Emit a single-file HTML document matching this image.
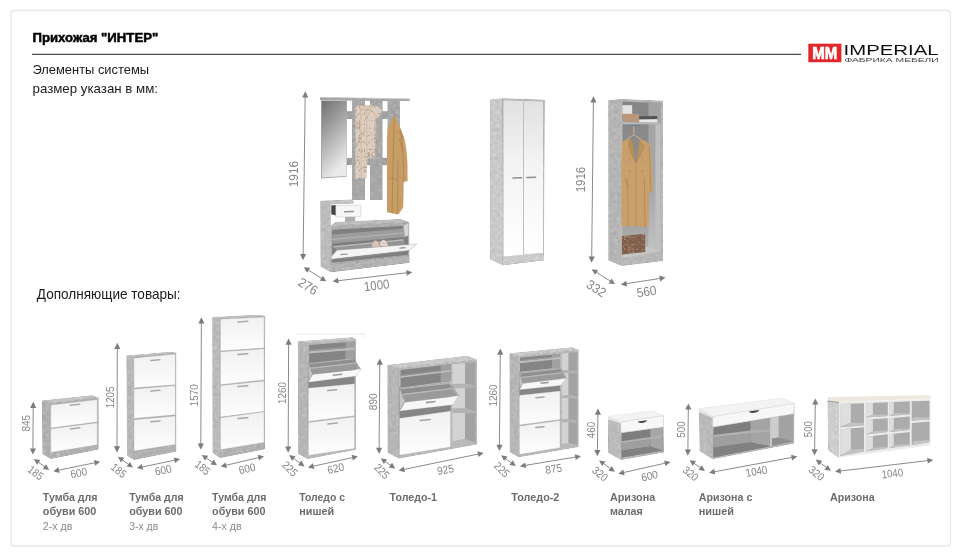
<!DOCTYPE html>
<html lang="ru"><head><meta charset="utf-8"><title>Прихожая ИНТЕР</title>
<style>
html,body{margin:0;padding:0;background:#fff;}
body{width:961px;height:557px;overflow:hidden;}
svg{display:block;font-family:"Liberation Sans",sans-serif;}
</style></head><body>
<svg width="961" height="557" viewBox="0 0 961 557">
<defs>
<linearGradient id="door" x1="0" y1="0" x2="0" y2="1"><stop offset="0" stop-color="#f1f1f1"/><stop offset="1" stop-color="#fdfdfd"/></linearGradient>
<linearGradient id="wdoor" x1="0" y1="0" x2="0" y2="1"><stop offset="0" stop-color="#e1e1e1"/><stop offset="0.4" stop-color="#f3f3f3"/><stop offset="1" stop-color="#ffffff"/></linearGradient>
<linearGradient id="mirror" x1="0" y1="0" x2="0.35" y2="1"><stop offset="0" stop-color="#707070"/><stop offset="0.5" stop-color="#acacac"/><stop offset="1" stop-color="#e9e9e9"/></linearGradient>
<linearGradient id="owback" x1="0" y1="0" x2="0" y2="1"><stop offset="0" stop-color="#858585"/><stop offset="0.6" stop-color="#939393"/><stop offset="1" stop-color="#b6b6b6"/></linearGradient>
<linearGradient id="owright" x1="0" y1="0" x2="0" y2="1"><stop offset="0" stop-color="#a2a2a2"/><stop offset="0.6" stop-color="#a8a8a8"/><stop offset="1" stop-color="#c2c2c2"/></linearGradient>
<filter id="scarf" x="-5%" y="-5%" width="110%" height="110%" color-interpolation-filters="sRGB">
 <feTurbulence type="turbulence" baseFrequency="0.2 0.14" numOctaves="2" seed="5" result="n"/>
 <feColorMatrix in="n" type="matrix" values="0 0 0 0 0.70  0 0 0 0 0.59  0 0 0 0 0.51  -5.5 0 0 0 0.95" result="c"/>
 <feComposite in="c" in2="SourceGraphic" operator="atop"/>
</filter>
<filter id="bag" x="-5%" y="-5%" width="110%" height="110%" color-interpolation-filters="sRGB">
 <feTurbulence type="turbulence" baseFrequency="0.16 0.2" numOctaves="2" seed="9" result="n"/>
 <feColorMatrix in="n" type="matrix" values="0 0 0 0 0.74  0 0 0 0 0.62  0 0 0 0 0.54  -5 0 0 0 0.72" result="c"/>
 <feComposite in="c" in2="SourceGraphic" operator="atop"/>
</filter>
<filter id="conc" x="-5%" y="-5%" width="110%" height="110%" color-interpolation-filters="sRGB">
 <feTurbulence type="fractalNoise" baseFrequency="0.28" numOctaves="3" seed="11" result="n"/>
 <feColorMatrix in="n" type="matrix" values="0.5 0.5 0 0 0  0.5 0.5 0 0 0  0.5 0.5 0 0 0  0 0 0 0 1" result="g"/>
 <feComposite in="SourceGraphic" in2="g" operator="arithmetic" k1="0" k2="1" k3="0.17" k4="-0.04" result="m"/>
 <feComposite in="m" in2="SourceGraphic" operator="in"/>
</filter>
<filter id="tsoft" x="-2%" y="-2%" width="104%" height="104%"><feGaussianBlur stdDeviation="0.28"/></filter>
<filter id="soft"><feGaussianBlur stdDeviation="0.35"/></filter>
</defs>
<rect x="11" y="10.5" width="939.5" height="535.5" rx="3" fill="#fff" stroke="#e8e8e8" stroke-width="1.3"/>
<g filter="url(#tsoft)">
<text x="32.5" y="41.7" font-size="12" font-weight="bold" fill="#000" textLength="125.7" lengthAdjust="spacingAndGlyphs" stroke="#000" stroke-width="0.45">Прихожая "ИНТЕР"</text>
<line x1="32.0" y1="54.4" x2="801.0" y2="54.4" stroke="#4a4a4a" stroke-width="1.1" />
<text x="32.5" y="74.3" font-size="13.6" font-weight="normal" fill="#1a1a1a" textLength="116.5" lengthAdjust="spacingAndGlyphs" >Элементы системы</text>
<text x="32.5" y="93.3" font-size="13.6" font-weight="normal" fill="#1a1a1a" textLength="125.5" lengthAdjust="spacingAndGlyphs" >размер указан в мм:</text>
<text x="36.8" y="299" font-size="14.6" font-weight="normal" fill="#1a1a1a" textLength="143.8" lengthAdjust="spacingAndGlyphs" >Дополняющие товары:</text>
<rect x="808.3" y="43.7" width="33.1" height="18.5" fill="#e2272b"/>
<text x="812.3" y="58.7" font-size="16" font-weight="bold" fill="#fff" textLength="25" lengthAdjust="spacingAndGlyphs" stroke="#fff" stroke-width="0.7">MM</text>
<text x="843.6" y="54.6" font-size="15" font-weight="normal" fill="#111" textLength="95" lengthAdjust="spacingAndGlyphs" >IMPERIAL</text>
<text x="844.4" y="62.4" font-size="5.9" font-weight="normal" fill="#444" textLength="94.4" lengthAdjust="spacingAndGlyphs" >ФАБРИКА МЕБЕЛИ</text>
<text x="42.8" y="501" font-size="10.1" font-weight="bold" fill="#6c6c6c" textLength="54.8" lengthAdjust="spacingAndGlyphs" >Тумба для</text>
<text x="42.8" y="515.3" font-size="10.1" font-weight="bold" fill="#6c6c6c" textLength="53.6" lengthAdjust="spacingAndGlyphs" >обуви 600</text>
<text x="42.8" y="529.7" font-size="10.1" font-weight="normal" fill="#8c8c8c" textLength="29.5" lengthAdjust="spacingAndGlyphs" >2-х дв</text>
<text x="129.2" y="501" font-size="10.1" font-weight="bold" fill="#6c6c6c" textLength="54.4" lengthAdjust="spacingAndGlyphs" >Тумба для</text>
<text x="129.2" y="515.3" font-size="10.1" font-weight="bold" fill="#6c6c6c" textLength="53.3" lengthAdjust="spacingAndGlyphs" >обуви 600</text>
<text x="129.2" y="529.7" font-size="10.1" font-weight="normal" fill="#8c8c8c" textLength="29" lengthAdjust="spacingAndGlyphs" >3-х дв</text>
<text x="212.1" y="501" font-size="10.1" font-weight="bold" fill="#6c6c6c" textLength="54.4" lengthAdjust="spacingAndGlyphs" >Тумба для</text>
<text x="212.1" y="515.3" font-size="10.1" font-weight="bold" fill="#6c6c6c" textLength="53.3" lengthAdjust="spacingAndGlyphs" >обуви 600</text>
<text x="212.1" y="529.7" font-size="10.1" font-weight="normal" fill="#8c8c8c" textLength="29.5" lengthAdjust="spacingAndGlyphs" >4-х дв</text>
<text x="299.2" y="501" font-size="10.1" font-weight="bold" fill="#6c6c6c" textLength="45.8" lengthAdjust="spacingAndGlyphs" >Толедо с</text>
<text x="299.2" y="515.3" font-size="10.1" font-weight="bold" fill="#6c6c6c" textLength="34.9" lengthAdjust="spacingAndGlyphs" >нишей</text>
<text x="389.6" y="501" font-size="10.1" font-weight="bold" fill="#6c6c6c" textLength="47.3" lengthAdjust="spacingAndGlyphs" >Толедо-1</text>
<text x="511.3" y="501" font-size="10.1" font-weight="bold" fill="#6c6c6c" textLength="48.1" lengthAdjust="spacingAndGlyphs" >Толедо-2</text>
<text x="609.9" y="501" font-size="10.1" font-weight="bold" fill="#6c6c6c" textLength="45.3" lengthAdjust="spacingAndGlyphs" >Аризона</text>
<text x="609.9" y="515.3" font-size="10.1" font-weight="bold" fill="#6c6c6c" textLength="32.8" lengthAdjust="spacingAndGlyphs" >малая</text>
<text x="698.7" y="501" font-size="10.1" font-weight="bold" fill="#6c6c6c" textLength="53.7" lengthAdjust="spacingAndGlyphs" >Аризона с</text>
<text x="698.7" y="515.3" font-size="10.1" font-weight="bold" fill="#6c6c6c" textLength="35.4" lengthAdjust="spacingAndGlyphs" >нишей</text>
<text x="829.9" y="501" font-size="10.1" font-weight="bold" fill="#6c6c6c" textLength="44.9" lengthAdjust="spacingAndGlyphs" >Аризона</text>
</g>
<g filter="url(#soft)">
<g filter="url(#conc)">
<polygon points="42.0,400.6 50.2,403.1 50.8,459.1 42.4,453.9" fill="#a4a4a4" />
<polygon points="50.2,403.1 98.6,397.4 98.6,449.5 50.8,459.1" fill="#a6a6a6" />
<polygon points="42.0,400.6 91.7,395.3 98.6,397.4 50.2,403.1" fill="#b9b9b9" />
</g>
<polygon points="50.8,405.0 97.3,399.6 97.3,421.9 50.8,428.0" fill="url(#door)" stroke="#959595" stroke-width="0.3"/>
<polygon points="50.8,428.8 97.3,422.8 97.3,444.8 50.8,452.4" fill="url(#door)" stroke="#959595" stroke-width="0.3"/>
<line x1="70.3" y1="405.3" x2="79.7" y2="404.2" stroke="#a9a9a9" stroke-width="1.5" stroke-linecap="round"/>
<line x1="70.3" y1="428.9" x2="79.7" y2="427.7" stroke="#a9a9a9" stroke-width="1.5" stroke-linecap="round"/>
<g filter="url(#conc)">
<polygon points="126.4,355.4 133.5,356.4 133.9,460.0 127.0,455.7" fill="#adadad" />
<polygon points="133.5,356.4 176.3,352.6 176.3,451.5 133.9,460.0" fill="#a6a6a6" />
<polygon points="126.4,355.4 170.7,351.7 176.3,352.6 133.5,356.4" fill="#b9b9b9" />
</g>
<polygon points="133.9,357.9 175.4,354.1 175.4,384.7 133.9,388.0" fill="url(#door)" stroke="#959595" stroke-width="0.3"/>
<polygon points="133.9,389.0 175.4,385.6 175.4,414.8 133.9,418.6" fill="url(#door)" stroke="#959595" stroke-width="0.3"/>
<polygon points="133.9,419.7 175.4,415.9 175.4,444.4 133.9,451.0" fill="url(#door)" stroke="#959595" stroke-width="0.3"/>
<line x1="150.9" y1="360.6" x2="159.9" y2="359.8" stroke="#a9a9a9" stroke-width="1.5" stroke-linecap="round"/>
<line x1="150.9" y1="391.1" x2="159.9" y2="390.3" stroke="#a9a9a9" stroke-width="1.5" stroke-linecap="round"/>
<line x1="150.9" y1="421.8" x2="159.9" y2="421.0" stroke="#a9a9a9" stroke-width="1.5" stroke-linecap="round"/>
<g filter="url(#conc)">
<polygon points="212.3,317.0 220.0,318.2 220.1,458.1 212.5,453.0" fill="#afafaf" />
<polygon points="220.0,318.2 265.2,315.7 264.9,449.3 220.1,458.1" fill="#a6a6a6" />
<polygon points="212.3,317.0 258.0,314.8 265.2,315.7 220.0,318.2" fill="#b9b9b9" />
</g>
<polygon points="220.4,319.1 264.2,317.0 264.2,348.1 220.4,350.9" fill="url(#door)" stroke="#959595" stroke-width="0.3"/>
<polygon points="220.4,351.7 264.2,348.8 264.2,379.9 220.4,384.7" fill="url(#door)" stroke="#959595" stroke-width="0.3"/>
<polygon points="220.4,385.6 264.2,380.9 264.2,411.4 220.4,417.1" fill="url(#door)" stroke="#959595" stroke-width="0.3"/>
<polygon points="220.4,417.8 264.2,411.8 264.2,442.5 220.4,449.7" fill="url(#door)" stroke="#959595" stroke-width="0.3"/>
<line x1="237.8" y1="321.9" x2="247.8" y2="321.3" stroke="#a9a9a9" stroke-width="1.5" stroke-linecap="round"/>
<line x1="237.8" y1="354.4" x2="247.8" y2="353.8" stroke="#a9a9a9" stroke-width="1.5" stroke-linecap="round"/>
<line x1="237.8" y1="386.6" x2="247.8" y2="385.8" stroke="#a9a9a9" stroke-width="1.5" stroke-linecap="round"/>
<line x1="237.8" y1="418.6" x2="247.8" y2="417.8" stroke="#a9a9a9" stroke-width="1.5" stroke-linecap="round"/>
<g filter="url(#conc)">
<polygon points="346.7,111.2 400.0,111.2 400.0,119.0 346.7,119.0" fill="#949494" />
<polygon points="346.7,157.8 400.0,157.8 400.0,165.3 346.7,165.3" fill="#949494" />
<polygon points="352.0,100.3 364.9,100.5 364.9,200.0 352.0,200.0" fill="#9c9c9c" />
<polygon points="370.0,100.3 382.6,100.5 382.6,200.0 370.0,200.0" fill="#9c9c9c" />
<polygon points="387.5,100.3 399.8,100.5 399.8,200.0 387.5,200.0" fill="#9c9c9c" />
<polygon points="320.0,97.3 409.7,98.9 409.7,100.9 320.0,100.6" fill="#9d9d9d" />
</g>
<polygon points="320.6,96.9 409.3,98.6 409.7,99.3 320.0,97.8" fill="#c4c4c4" />
<polygon points="321.0,100.6 346.9,100.8 346.5,176.8 321.0,178.4" fill="#a5a5a5" />
<polygon points="321.9,101.0 346.6,101.1 346.2,176.1 321.9,177.5" fill="url(#mirror)" />
<g filter="url(#scarf)">
<path d="M355.8,107 C356.5,105.5 359,105 362,105.8 C365,104.8 369,104.6 372,105.6 C375,105 379.5,106.5 381.6,109.5 C381.8,113 379.5,116.5 377.3,118.3 L375.6,116.6 L375.4,135 L375.2,157.8 L367.6,158.4 L366.4,178.8 L361,178 L355.3,178.8 L355.6,140 L355.2,118 Z" fill="#dccdbf"/>
</g>
<path d="M366.6,108 C367.2,125 366.4,140 367.2,158 M361,108 C360.4,130 361.6,155 361,177" fill="none" stroke="#b7a08f" stroke-width="0.6" opacity="0.7"/>
<path d="M394.2,115.4 C396.5,119 399,124 400.6,129 C403,134 404.6,139 405.3,143 C406.6,150 407.3,158 407.5,165 L407.6,181 L403.7,182 L403.2,207.5 L399,213.4 L397.8,214.4 L392,213.2 L387,212.2 L386.9,170 L387,140 C387.1,135 387.4,131 387.8,128 C389.5,123.5 392,118.5 394.2,115.4 Z" fill="#c89d66"/>
<path d="M394.2,116.5 L393.4,150 L392,212.5 M400.6,129 C402.5,142 403.6,162 403.7,182 M397,131 L403,136.5 L399.5,139.5 L402.8,152 M398,160 L397.6,213 M389.6,178 L397.6,179.4" fill="none" stroke="#a67c48" stroke-width="0.75" opacity="0.85"/>
<path d="M391.8,112.2 C392.6,110.6 394.8,111 394.2,115.2" fill="none" stroke="#888" stroke-width="0.8"/>
<g filter="url(#conc)">
<polygon points="320.3,200.7 330.7,204.4 330.7,272.2 320.5,266.4" fill="#b0b0b0" />
<polygon points="320.3,200.7 352.1,199.4 354.6,203.4 330.7,204.4" fill="#b7b7b7" />
<polygon points="345.2,216.8 355.2,216.4 355.2,224.3 345.2,224.7" fill="#a3a3a3" />
<polygon points="330.7,225.8 335.5,221.9 400.5,219.1 409.2,222.0" fill="#b3b3b3" />
<polygon points="330.7,225.8 409.2,222.0 409.4,262.8 330.7,272.2" fill="#a4a4a4" />
</g>
<polygon points="332.1,229.7 408.0,225.5 408.2,254.8 332.1,262.8" fill="#7f7f7f" />
<polygon points="332.2,234.5 402.0,228.8 405.8,226.2 407.8,226.2 404.2,237.0 332.2,243.5" fill="#9c9c9c" />
<polygon points="332.2,238.8 403.0,232.4 403.2,233.6 332.2,240.0" fill="#b4b4b4" />
<polygon points="403.4,225.2 408.6,223.2 408.6,235.6 404.6,237.0" fill="#d6d6d6" stroke="#9a9a9a" stroke-width="0.3"/>
<polygon points="333.0,246.2 403.6,239.2 406.0,247.8 337.0,251.2" fill="#959595" />
<polygon points="333.0,246.2 403.6,239.2 403.8,240.4 333.2,247.4" fill="#bbbbbb" />
<path d="M371.5,246.5 C372.5,241.5 375,240 376.5,240.8 C378.5,242 379.5,245.5 380,248 Z" fill="#d8c3b8"/>
<path d="M379.5,245.8 C380.5,240.8 383,239.3 384.5,240 C386.5,241.2 387.8,244.5 388.2,247 Z" fill="#e3d2c8"/>
<polygon points="331.3,256.6 337.0,250.2 416.9,243.9 409.3,250.4 331.4,259.2" fill="#f4f4f4" stroke="#9a9a9a" stroke-width="0.4"/>
<polygon points="331.4,259.2 409.3,250.4 409.3,251.6 331.4,260.6" fill="#8a8a8a" />
<line x1="340.5" y1="254.6" x2="347.5" y2="254.0" stroke="#8f8f8f" stroke-width="1.2" />
<line x1="399.5" y1="248.2" x2="405.5" y2="247.7" stroke="#8f8f8f" stroke-width="1.2" />
<g filter="url(#conc)">
<polygon points="330.7,264.4 409.4,255.0 409.4,262.8 330.7,272.2" fill="#a8a8a8" />
</g>
<polygon points="331.3,205.2 335.9,205.2 335.9,215.4 331.3,214.2" fill="#454545" />
<polygon points="335.8,205.7 360.9,205.2 360.9,216.6 335.8,217.1" fill="#f6f6f6" stroke="#b5b5b5" stroke-width="0.4"/>
<line x1="344.0" y1="211.8" x2="354.0" y2="211.5" stroke="#959595" stroke-width="1.6" />
<g filter="url(#conc)">
<polygon points="490.2,99.4 502.1,98.2 502.7,265.3 490.2,259.6" fill="#bebebe" />
<polygon points="502.1,98.2 544.8,99.8 543.9,260.3 502.7,265.3" fill="#adadad" />
<polygon points="502.7,256.4 543.9,252.6 543.9,260.3 502.7,265.3" fill="#c0c0c0" />
</g>
<polygon points="503.5,100.2 523.1,100.9 523.1,254.7 503.6,256.6" fill="url(#wdoor)" />
<polygon points="523.8,100.9 543.0,101.6 543.1,252.8 523.8,254.6" fill="url(#wdoor)" />
<line x1="523.5" y1="100.9" x2="523.5" y2="254.7" stroke="#b9b9b9" stroke-width="0.6" />
<line x1="512.9" y1="178.0" x2="521.6" y2="177.7" stroke="#909090" stroke-width="1.5" stroke-linecap="round"/>
<line x1="526.9" y1="177.5" x2="535.6" y2="177.2" stroke="#909090" stroke-width="1.5" stroke-linecap="round"/>
<g filter="url(#conc)">
<polygon points="608.3,100.3 621.3,99.1 621.5,265.9 608.3,260.2" fill="#aaaaaa" />
<polygon points="621.3,99.1 663.0,100.7 663.0,260.9 621.5,265.9" fill="#acacac" />
</g>
<polygon points="622.4,101.6 660.4,102.9 660.4,251.2 622.5,255.6" fill="url(#owback)" />
<polygon points="648.4,102.6 660.4,102.9 660.4,251.2 648.4,246.2" fill="url(#owright)" />
<polygon points="655.4,124.6 660.6,124.6 660.6,251.2 655.4,249.2" fill="#bfbfbf" />
<polygon points="622.5,255.4 648.4,246.2 660.4,251.2 622.5,258.3" fill="#c6c6c6" />
<polygon points="622.4,122.1 660.4,122.6 660.4,124.5 622.4,124.2" fill="#b9b9b9" />
<polygon points="622.4,119.8 648.4,119.8 660.4,122.6 622.4,122.1" fill="#a8a8a8" />
<polygon points="622.4,105.2 632.2,105.2 632.2,113.9 622.4,113.9" fill="#e2e2e2" />
<polygon points="622.4,113.9 638.8,113.7 638.8,122.0 622.4,122.1" fill="#b9977c" />
<polygon points="639.3,116.3 657.0,116.1 657.4,119.3 639.3,119.6" fill="#555" />
<polygon points="639.3,119.4 657.4,119.2 657.4,122.2 639.3,122.2" fill="#e8e8e8" />
<line x1="629.0" y1="125.6" x2="639.8" y2="125.6" stroke="#6f7f8f" stroke-width="1.2" />
<path d="M633.9,126 L633.9,133.6 M627.5,138.8 L633.9,134.6 L640.5,139.2" fill="none" stroke="#d9b58a" stroke-width="0.9"/>
<path d="M628.5,138.2 C626,139.6 623.8,140.8 622.4,141.8 C621.4,150 621.2,160 621.2,172 L621.3,225.4 C624,226.8 627,224.8 630,226 C633,227.2 636,225 639.5,226.4 C642.5,227.4 646,225.8 648.6,227.2 L648.9,191.5 L652.9,191.2 L651.6,163 C651.2,153 650.4,147 649.4,143.6 C647,142 643,140.2 639.6,138.6 L636,164.4 Z" fill="#c9a06c"/>
<path d="M628.5,138.2 L632.4,141.2 L636,164.4 L631.8,157 L628.2,146.5 Z" fill="#b98e59"/>
<path d="M639.6,138.6 L641.2,142 L645.2,146 L640.5,157 L636,164.4 Z" fill="#bb915c"/>
<path d="M632.4,141.2 L636,164.4 L639.6,140 C637,141.4 634.6,141.6 632.4,141.2 Z" fill="#8f8a86"/>
<path d="M636,164.4 L636.2,226 M627.6,178 L628,226 M644.4,178 L645,227 M649.2,146 C650,162 650.4,178 650.6,191 M624.6,177.8 C625.6,182 627,185 628.6,186.6" fill="none" stroke="#a67c48" stroke-width="0.7" opacity="0.8"/>
<circle cx="629.6" cy="160" r="0.55" fill="#7a5a34"/><circle cx="629.6" cy="171" r="0.55" fill="#7a5a34"/><circle cx="642.4" cy="160" r="0.55" fill="#7a5a34"/><circle cx="642.4" cy="171" r="0.55" fill="#7a5a34"/>
<g filter="url(#bag)">
<polygon points="621.8,236.0 645.1,233.8 645.3,252.0 621.8,254.6" fill="#80604c" />
</g>
<g filter="url(#conc)">
<polygon points="297.9,341.3 308.1,342.6 307.7,458.9 298.3,453.9" fill="#ababab" />
<polygon points="308.1,342.6 355.8,339.1 355.8,449.8 307.7,458.9" fill="#aeaeae" />
<polygon points="297.9,341.3 352.3,337.3 355.8,339.1 308.1,342.6" fill="#bdbdbd" />
</g>
<polygon points="309.1,345.1 354.6,341.6 354.6,360.2 309.1,364.6" fill="#858585" />
<polygon points="345.5,342.3 354.6,341.6 354.6,360.2 345.5,361.1" fill="#a0a0a0" />
<polygon points="309.1,351.2 354.6,347.5 354.6,349.7 309.1,353.6" fill="#bcbcbc" />
<polygon points="309.1,349.8 345.5,346.9 345.5,348.2 309.1,351.2" fill="#999999" />
<polygon points="308.3,374.0 354.6,369.0 354.6,384.0 308.3,388.4" fill="#858585" />
<polygon points="308.9,363.3 353.5,358.3 356.0,362.6 310.4,367.7" fill="#8e8e8e" />
<polygon points="310.4,367.7 356.0,362.6 356.6,363.6 310.8,368.9" fill="#b9b9b9" />
<polygon points="310.8,368.9 356.6,363.6 359.8,369.0 312.7,374.4" fill="#9a9a9a" />
<polygon points="308.9,363.3 353.5,358.3 354.1,359.3 309.2,364.3" fill="#b4b4b4" />
<polygon points="308.3,362.7 312.7,374.4 308.3,381.5" fill="#c4c4c4" stroke="#7d7d7d" stroke-width="0.35"/>
<line x1="353.6" y1="358.4" x2="360.6" y2="369.2" stroke="#8a8a8a" stroke-width="0.7" />
<polygon points="312.7,374.4 361.1,369.2 356.7,376.1 308.3,382.3" fill="#f7f7f7" stroke="#a9a9a9" stroke-width="0.3"/>
<line x1="332.8" y1="375.2" x2="342.2" y2="374.2" stroke="#9a9a9a" stroke-width="1.6" />
<polygon points="308.3,388.1 354.6,383.7 354.6,415.8 308.3,421.4" fill="url(#door)" stroke="#959595" stroke-width="0.3"/>
<polygon points="308.3,422.4 354.6,416.8 354.6,448.6 308.3,455.4" fill="url(#door)" stroke="#959595" stroke-width="0.3"/>
<line x1="327.8" y1="390.6" x2="336.6" y2="389.8" stroke="#a6a6a6" stroke-width="1.5" stroke-linecap="round"/>
<line x1="327.8" y1="424.0" x2="337.2" y2="423.0" stroke="#a6a6a6" stroke-width="1.5" stroke-linecap="round"/>
<path d="M295.8,334 L364.8,334 L364.8,338" fill="none" stroke="#e4e4e4" stroke-width="0.8"/>
<g filter="url(#conc)">
<polygon points="387.4,365.1 398.9,368.2 398.9,458.4 387.6,452.8" fill="#ababab" />
<polygon points="398.9,368.2 476.8,359.5 476.8,444.6 398.9,458.4" fill="#aeaeae" />
<polygon points="387.4,365.1 466.8,355.7 476.8,359.5 398.9,368.2" fill="#bdbdbd" />
</g>
<polygon points="452.4,364.6 465.0,363.2 465.0,440.0 452.4,445.5" fill="#d3d3d3" />
<polygon points="465.0,363.2 475.6,362.0 475.6,443.0 465.0,440.0" fill="#a3a3a3" />
<polygon points="452.4,384.0 465.0,383.6 475.6,385.8 475.6,387.6 452.4,388.4" fill="#b3b3b3" />
<polygon points="452.4,408.5 465.0,408.0 475.6,411.0 475.6,413.0 452.4,413.0" fill="#b3b3b3" />
<polygon points="452.4,441.0 465.0,438.7 475.6,442.5 475.6,444.0 452.4,448.0" fill="#b9b9b9" />
<polygon points="400.6,370.0 450.7,364.3 450.7,381.1 400.6,387.4" fill="#858585" />
<polygon points="440.7,365.5 450.7,364.3 450.7,381.1 440.7,382.3" fill="#a0a0a0" />
<polygon points="400.6,375.9 450.7,370.1 450.7,371.8 400.6,377.7" fill="#bcbcbc" />
<polygon points="400.6,374.9 440.7,370.2 440.7,371.2 400.6,375.9" fill="#999999" />
<polygon points="399.5,403.0 450.6,396.5 450.6,411.3 399.5,418.4" fill="#858585" />
<polygon points="400.2,388.3 448.5,382.7 452.1,387.9 402.2,393.9" fill="#8e8e8e" />
<polygon points="402.2,393.9 452.1,387.9 453.0,389.1 402.7,395.2" fill="#b9b9b9" />
<polygon points="402.7,395.2 453.0,389.1 457.5,395.6 405.2,402.2" fill="#9a9a9a" />
<polygon points="400.2,388.3 448.5,382.7 449.3,383.9 400.6,389.6" fill="#b4b4b4" />
<polygon points="399.5,387.6 405.2,402.2 399.5,410.3" fill="#c4c4c4" stroke="#7d7d7d" stroke-width="0.35"/>
<line x1="450.5" y1="383.6" x2="459.0" y2="396.2" stroke="#8a8a8a" stroke-width="0.7" />
<polygon points="405.2,402.2 458.6,395.9 452.9,404.8 399.5,411.1" fill="#f7f7f7" stroke="#a9a9a9" stroke-width="0.3"/>
<line x1="426.0" y1="402.6" x2="435.5" y2="401.5" stroke="#9a9a9a" stroke-width="1.6" />
<polygon points="399.5,418.2 450.6,411.1 450.6,447.1 399.5,455.3" fill="url(#door)" stroke="#959595" stroke-width="0.3"/>
<line x1="420.3" y1="420.6" x2="430.3" y2="419.4" stroke="#a6a6a6" stroke-width="1.5" stroke-linecap="round"/>
<g filter="url(#conc)">
<polygon points="509.5,353.2 518.7,355.7 518.7,457.2 509.7,452.1" fill="#ababab" />
<polygon points="518.7,355.7 578.6,349.8 578.6,447.1 518.7,457.2" fill="#aeaeae" />
<polygon points="509.5,353.2 571.7,347.3 578.6,349.8 518.7,355.7" fill="#bdbdbd" />
</g>
<polygon points="561.9,353.5 568.5,352.9 568.5,443.5 561.9,446.6" fill="#d3d3d3" />
<polygon points="568.5,352.9 577.3,352.0 577.3,445.0 568.5,443.5" fill="#a3a3a3" />
<polygon points="561.9,370.3 568.5,370.0 577.3,371.5 577.3,373.3 561.9,373.0" fill="#b3b3b3" />
<polygon points="561.9,395.4 568.5,395.1 577.3,396.6 577.3,398.4 561.9,398.1" fill="#b3b3b3" />
<polygon points="561.9,419.3 568.5,419.0 577.3,420.8 577.3,422.6 561.9,422.3" fill="#b3b3b3" />
<polygon points="561.9,444.0 568.5,443.0 577.3,445.0 577.3,446.2 561.9,448.6" fill="#b9b9b9" />
<polygon points="520.0,357.8 560.0,353.8 560.0,367.4 520.0,371.8" fill="#858585" />
<polygon points="552.0,354.6 560.0,353.8 560.0,367.4 552.0,368.3" fill="#a0a0a0" />
<polygon points="520.0,361.1 560.0,357.1 560.0,359.0 520.0,363.2" fill="#bcbcbc" />
<polygon points="520.0,359.9 552.0,356.7 552.0,357.9 520.0,361.1" fill="#999999" />
<polygon points="519.3,384.0 560.1,379.3 560.1,391.0 519.3,395.4" fill="#858585" />
<polygon points="520.2,372.7 559.1,368.3 561.8,372.3 521.2,377.0" fill="#8e8e8e" />
<polygon points="521.2,377.0 561.8,372.3 562.5,373.2 521.5,378.0" fill="#b9b9b9" />
<polygon points="521.5,378.0 562.5,373.2 565.8,378.2 522.7,383.4" fill="#9a9a9a" />
<polygon points="520.2,372.7 559.1,368.3 559.7,369.2 520.4,373.7" fill="#b4b4b4" />
<polygon points="519.3,372.2 522.7,383.4 519.3,389.0" fill="#c4c4c4" stroke="#7d7d7d" stroke-width="0.35"/>
<line x1="560.2" y1="368.6" x2="566.6" y2="378.5" stroke="#8a8a8a" stroke-width="0.7" />
<polygon points="522.7,383.4 566.7,378.3 560.4,385.4 519.5,389.8" fill="#f7f7f7" stroke="#a9a9a9" stroke-width="0.3"/>
<line x1="540.5" y1="383.3" x2="548.5" y2="382.4" stroke="#9a9a9a" stroke-width="1.6" />
<polygon points="519.3,395.3 560.1,390.9 560.1,419.5 519.3,425.1" fill="url(#door)" stroke="#959595" stroke-width="0.3"/>
<polygon points="519.3,426.0 560.1,420.4 560.1,447.7 519.3,454.6" fill="url(#door)" stroke="#959595" stroke-width="0.3"/>
<line x1="535.9" y1="397.8" x2="544.0" y2="397.0" stroke="#a6a6a6" stroke-width="1.5" stroke-linecap="round"/>
<line x1="535.9" y1="427.6" x2="544.0" y2="426.7" stroke="#a6a6a6" stroke-width="1.5" stroke-linecap="round"/>
<g filter="url(#conc)">
<polygon points="607.9,419.5 620.8,422.0 621.2,460.1 608.3,452.8" fill="#afafaf" />
<polygon points="620.8,422.0 663.5,415.7 663.9,452.6 621.2,460.1" fill="#ababab" />
</g>
<polygon points="621.6,433.0 662.6,427.2 662.8,450.6 621.8,457.6" fill="#7e7e7e" />
<polygon points="650.4,429.0 662.6,427.2 662.8,450.6 650.4,446.6" fill="#a6a6a6" />
<polygon points="621.6,441.2 650.4,437.0 662.7,435.4 662.7,437.6 621.7,443.6" fill="#b1b1b1" />
<polygon points="621.7,443.6 650.4,439.5 650.4,446.6 621.7,450.6" fill="#9f9f9f" />
<polygon points="621.7,450.6 650.4,446.6 662.8,450.6 621.8,457.6" fill="#818181" />
<polygon points="607.9,416.4 652.9,410.7 663.5,415.7 620.8,422.0" fill="#f3f3f3" stroke="#d9d9d9" stroke-width="0.4"/>
<polygon points="620.8,422.0 663.5,415.7 663.5,427.0 620.8,432.7" fill="#f7f7f7" stroke="#cfcfcf" stroke-width="0.4"/>
<path d="M637.8,421.6 L647.2,420.3 C646.2,422.9 638.8,424.2 637.8,421.6 Z" fill="#3d3d3d"/>
<polygon points="607.9,416.4 620.8,422.0 620.8,423.4 607.9,419.6" fill="#e3e3e3" />
<g filter="url(#conc)">
<polygon points="699.1,412.2 712.7,416.6 712.7,459.3 699.6,451.0" fill="#afafaf" />
<polygon points="712.7,416.6 794.5,403.4 794.1,443.5 712.7,459.3" fill="#ababab" />
</g>
<polygon points="713.5,427.2 770.1,417.9 770.1,446.2 713.5,457.2" fill="#7e7e7e" />
<polygon points="750.5,421.1 770.1,417.9 770.1,446.2 750.5,442.6" fill="#a4a4a4" />
<polygon points="713.5,435.1 750.5,430.6 770.1,429.2 770.1,431.2 713.5,437.6" fill="#b1b1b1" />
<polygon points="713.5,437.6 750.5,433.4 750.5,442.6 713.5,447.4" fill="#9f9f9f" />
<polygon points="713.5,447.4 750.5,442.6 770.1,446.2 713.5,457.2" fill="#818181" />
<polygon points="772.0,417.6 793.3,414.0 793.3,441.6 772.0,445.8" fill="#a2a2a2" />
<polygon points="772.0,417.6 778.6,416.5 778.6,437.6 772.0,438.6" fill="#cdcdcd" />
<polygon points="772.0,438.6 778.6,437.6 793.3,441.6 772.0,445.8" fill="#8f8f8f" />
<polygon points="770.1,417.9 772.0,417.6 772.0,445.8 770.1,446.2" fill="#c9c9c9" />
<polygon points="699.1,408.6 782.3,398.0 794.5,403.4 712.7,416.6" fill="#f3f3f3" stroke="#d9d9d9" stroke-width="0.4"/>
<polygon points="712.7,416.6 794.5,403.4 793.6,413.7 712.7,427.0" fill="#f7f7f7" stroke="#cfcfcf" stroke-width="0.4"/>
<path d="M748.9,411.6 L759.2,410.0 C758.2,412.6 749.9,414.2 748.9,411.6 Z" fill="#3d3d3d"/>
<polygon points="699.1,408.6 712.7,416.6 712.7,418.0 699.1,412.3" fill="#e3e3e3" />
<g filter="url(#conc)">
<polygon points="827.5,400.9 838.8,402.5 838.8,457.8 828.2,450.3" fill="#c2c2c2" />
</g>
<polygon points="838.8,402.3 930.3,399.0 930.3,445.3 838.8,457.8" fill="#ebebeb" />
<polygon points="840.1,404.1 864.0,403.2 864.0,425.6 840.1,427.3" fill="#acacac" />
<polygon points="840.1,404.1 850.8,403.7 850.8,422.8 840.1,426.8" fill="#dedede" />
<polygon points="840.1,427.3 850.8,422.6 864.0,423.2 864.0,425.6" fill="#c3c3c3" />
<polygon points="840.1,429.2 864.0,427.3 864.0,451.6 840.1,456.0" fill="#acacac" />
<polygon points="840.1,429.2 850.8,428.3 850.8,449.7 840.1,455.4" fill="#dedede" />
<polygon points="840.1,456.0 850.8,449.4 864.0,448.9 864.0,451.6" fill="#c3c3c3" />
<polygon points="865.9,403.2 887.8,402.3 887.8,416.1 865.9,417.4" fill="#acacac" />
<polygon points="865.9,403.2 872.9,402.9 872.9,414.7 865.9,417.1" fill="#dedede" />
<polygon points="865.9,417.4 872.9,414.6 887.8,414.7 887.8,416.1" fill="#c3c3c3" />
<polygon points="865.9,419.5 887.8,418.3 887.8,432.1 865.9,434.6" fill="#acacac" />
<polygon points="865.9,419.5 872.9,419.1 872.9,431.4 865.9,434.3" fill="#dedede" />
<polygon points="865.9,434.6 872.9,431.2 887.8,430.6 887.8,432.1" fill="#c3c3c3" />
<polygon points="865.9,436.7 887.8,434.2 887.8,448.0 865.9,451.6" fill="#acacac" />
<polygon points="865.9,436.7 872.9,435.9 872.9,448.1 865.9,451.3" fill="#dedede" />
<polygon points="865.9,451.6 872.9,447.9 887.8,446.6 887.8,448.0" fill="#c3c3c3" />
<polygon points="889.7,402.3 909.8,401.3 909.8,414.5 889.7,415.8" fill="#acacac" />
<polygon points="889.7,402.3 893.7,402.1 893.7,413.4 889.7,415.5" fill="#dedede" />
<polygon points="889.7,415.8 893.7,413.2 909.8,413.2 909.8,414.5" fill="#c3c3c3" />
<polygon points="889.7,418.3 909.8,416.6 909.8,429.9 889.7,432.1" fill="#acacac" />
<polygon points="889.7,418.3 893.7,417.9 893.7,429.4 889.7,431.8" fill="#dedede" />
<polygon points="889.7,432.1 893.7,429.3 909.8,428.6 909.8,429.9" fill="#c3c3c3" />
<polygon points="889.7,434.2 909.8,432.1 909.8,445.3 889.7,448.0" fill="#acacac" />
<polygon points="889.7,434.2 893.7,433.8 893.7,445.3 889.7,447.8" fill="#dedede" />
<polygon points="889.7,448.0 893.7,445.1 909.8,443.9 909.8,445.3" fill="#c3c3c3" />
<polygon points="911.7,401.3 929.5,400.7 929.5,419.5 911.7,420.8" fill="#acacac" />
<polygon points="911.7,420.8 913.8,417.3 929.5,417.6 929.5,419.5" fill="#c3c3c3" />
<polygon points="911.7,422.9 929.5,421.4 929.5,442.1 911.7,445.3" fill="#acacac" />
<polygon points="911.7,445.3 913.8,441.1 929.5,439.9 929.5,442.1" fill="#c3c3c3" />
<polygon points="827.5,396.9 930.6,395.3 930.6,398.6 838.8,402.0 827.5,400.6" fill="#ece8de" />
<polygon points="827.5,400.5 838.8,401.9 838.8,402.7 827.5,401.2" fill="#8a8078" />
</g>
<g filter="url(#tsoft)">
<line x1="305.2" y1="96.2" x2="303.1" y2="255.3" stroke="#8a8a8a" stroke-width="1.0" />
<polygon points="305.3,91.2 302.1,97.4 308.3,97.4" fill="#7c7c7c" />
<polygon points="303.0,260.3 300.0,254.1 306.2,254.1" fill="#7c7c7c" />
<line x1="593.4" y1="101.3" x2="591.7" y2="257.7" stroke="#8a8a8a" stroke-width="1.0" />
<polygon points="593.5,96.3 590.3,102.5 596.5,102.5" fill="#7c7c7c" />
<polygon points="591.6,262.7 588.6,256.5 594.8,256.5" fill="#7c7c7c" />
<line x1="33.2" y1="406.8" x2="32.9" y2="449.6" stroke="#8a8a8a" stroke-width="1.0" />
<polygon points="33.2,401.8 30.1,408.0 36.3,408.0" fill="#7c7c7c" />
<polygon points="32.9,454.6 29.8,448.4 36.0,448.4" fill="#7c7c7c" />
<line x1="117.3" y1="347.8" x2="117.0" y2="447.5" stroke="#8a8a8a" stroke-width="1.0" />
<polygon points="117.3,342.8 114.2,349.0 120.4,349.0" fill="#7c7c7c" />
<polygon points="117.0,452.5 113.9,446.3 120.1,446.3" fill="#7c7c7c" />
<line x1="201.4" y1="322.3" x2="200.8" y2="444.7" stroke="#8a8a8a" stroke-width="1.0" />
<polygon points="201.4,317.3 198.3,323.5 204.5,323.5" fill="#7c7c7c" />
<polygon points="200.8,449.7 197.7,443.5 203.9,443.5" fill="#7c7c7c" />
<line x1="288.6" y1="343.6" x2="288.2" y2="447.8" stroke="#8a8a8a" stroke-width="1.0" />
<polygon points="288.6,338.6 285.5,344.8 291.7,344.8" fill="#7c7c7c" />
<polygon points="288.2,452.8 285.1,446.6 291.3,446.6" fill="#7c7c7c" />
<line x1="379.8" y1="363.6" x2="379.1" y2="449.0" stroke="#8a8a8a" stroke-width="1.0" />
<polygon points="379.8,358.6 376.7,364.8 382.9,364.8" fill="#7c7c7c" />
<polygon points="379.1,454.0 376.0,447.8 382.2,447.8" fill="#7c7c7c" />
<line x1="500.3" y1="353.6" x2="499.4" y2="445.9" stroke="#8a8a8a" stroke-width="1.0" />
<polygon points="500.3,348.6 497.1,354.8 503.3,354.8" fill="#7c7c7c" />
<polygon points="499.4,450.9 496.4,444.7 502.6,444.7" fill="#7c7c7c" />
<line x1="597.9" y1="413.6" x2="597.4" y2="451.2" stroke="#8a8a8a" stroke-width="1.0" />
<polygon points="598.0,408.6 594.8,414.8 601.0,414.8" fill="#7c7c7c" />
<polygon points="597.3,456.2 594.3,450.0 600.5,450.0" fill="#7c7c7c" />
<line x1="688.3" y1="408.4" x2="687.9" y2="450.7" stroke="#8a8a8a" stroke-width="1.0" />
<polygon points="688.4,403.4 685.2,409.6 691.4,409.6" fill="#7c7c7c" />
<polygon points="687.8,455.7 684.8,449.5 691.0,449.5" fill="#7c7c7c" />
<line x1="815.3" y1="403.4" x2="814.6" y2="450.4" stroke="#8a8a8a" stroke-width="1.0" />
<polygon points="815.4,398.4 812.2,404.6 818.4,404.6" fill="#7c7c7c" />
<polygon points="814.5,455.4 811.5,449.2 817.7,449.2" fill="#7c7c7c" />
<line x1="307.6" y1="269.7" x2="322.4" y2="278.8" stroke="#8a8a8a" stroke-width="1.0" />
<polygon points="303.7,267.2 307.1,272.7 310.2,267.8" fill="#7c7c7c" />
<polygon points="326.3,281.3 319.8,280.7 322.9,275.8" fill="#7c7c7c" />
<line x1="337.2" y1="280.8" x2="407.7" y2="272.7" stroke="#8a8a8a" stroke-width="1.0" />
<polygon points="332.6,281.3 338.7,283.5 338.0,277.8" fill="#7c7c7c" />
<polygon points="412.3,272.2 406.9,275.7 406.2,270.0" fill="#7c7c7c" />
<line x1="595.5" y1="271.7" x2="611.1" y2="281.6" stroke="#8a8a8a" stroke-width="1.0" />
<polygon points="591.6,269.2 594.9,274.8 598.0,269.9" fill="#7c7c7c" />
<polygon points="615.0,284.1 608.6,283.4 611.7,278.5" fill="#7c7c7c" />
<line x1="625.5" y1="283.8" x2="660.9" y2="278.3" stroke="#8a8a8a" stroke-width="1.0" />
<polygon points="620.9,284.5 627.1,286.5 626.2,280.7" fill="#7c7c7c" />
<polygon points="665.5,277.6 660.2,281.4 659.3,275.6" fill="#7c7c7c" />
<line x1="37.7" y1="461.8" x2="45.4" y2="467.2" stroke="#8a8a8a" stroke-width="1.0" />
<polygon points="33.9,459.1 37.0,464.8 40.3,460.1" fill="#7c7c7c" />
<polygon points="49.2,469.9 42.8,468.9 46.1,464.2" fill="#7c7c7c" />
<line x1="57.8" y1="470.3" x2="95.7" y2="462.6" stroke="#8a8a8a" stroke-width="1.0" />
<polygon points="53.3,471.2 59.6,472.9 58.4,467.2" fill="#7c7c7c" />
<polygon points="100.2,461.7 95.1,465.7 93.9,460.0" fill="#7c7c7c" />
<line x1="121.7" y1="459.5" x2="129.2" y2="464.9" stroke="#8a8a8a" stroke-width="1.0" />
<polygon points="117.9,456.8 120.9,462.5 124.3,457.8" fill="#7c7c7c" />
<polygon points="133.0,467.6 126.6,466.6 130.0,461.9" fill="#7c7c7c" />
<line x1="141.3" y1="467.2" x2="175.6" y2="460.0" stroke="#8a8a8a" stroke-width="1.0" />
<polygon points="136.8,468.1 143.1,469.8 141.9,464.1" fill="#7c7c7c" />
<polygon points="180.1,459.1 175.0,463.1 173.8,457.4" fill="#7c7c7c" />
<line x1="205.6" y1="457.5" x2="213.1" y2="462.7" stroke="#8a8a8a" stroke-width="1.0" />
<polygon points="201.8,454.9 204.9,460.6 208.2,455.8" fill="#7c7c7c" />
<polygon points="216.9,465.3 210.5,464.4 213.8,459.6" fill="#7c7c7c" />
<line x1="225.1" y1="465.5" x2="259.5" y2="457.4" stroke="#8a8a8a" stroke-width="1.0" />
<polygon points="220.6,466.6 226.9,468.1 225.6,462.4" fill="#7c7c7c" />
<polygon points="264.0,456.3 259.0,460.5 257.7,454.8" fill="#7c7c7c" />
<line x1="292.8" y1="457.8" x2="300.8" y2="463.7" stroke="#8a8a8a" stroke-width="1.0" />
<polygon points="289.1,455.1 292.1,460.9 295.5,456.2" fill="#7c7c7c" />
<polygon points="304.5,466.4 298.1,465.3 301.5,460.6" fill="#7c7c7c" />
<line x1="312.4" y1="466.4" x2="353.4" y2="457.4" stroke="#8a8a8a" stroke-width="1.0" />
<polygon points="307.9,467.4 314.2,469.0 312.9,463.3" fill="#7c7c7c" />
<polygon points="357.9,456.4 352.9,460.5 351.6,454.8" fill="#7c7c7c" />
<line x1="384.5" y1="461.1" x2="391.4" y2="465.8" stroke="#8a8a8a" stroke-width="1.0" />
<polygon points="380.7,458.4 383.8,464.1 387.1,459.3" fill="#7c7c7c" />
<polygon points="395.2,468.5 388.8,467.6 392.1,462.8" fill="#7c7c7c" />
<line x1="403.2" y1="469.6" x2="479.1" y2="453.9" stroke="#8a8a8a" stroke-width="1.0" />
<polygon points="398.7,470.5 405.0,472.2 403.8,466.5" fill="#7c7c7c" />
<polygon points="483.6,453.0 478.5,457.0 477.3,451.3" fill="#7c7c7c" />
<line x1="504.9" y1="458.0" x2="512.0" y2="463.3" stroke="#8a8a8a" stroke-width="1.0" />
<polygon points="501.1,455.3 504.1,461.1 507.5,456.4" fill="#7c7c7c" />
<polygon points="515.8,466.0 509.4,464.9 512.8,460.2" fill="#7c7c7c" />
<line x1="524.5" y1="465.5" x2="576.4" y2="456.9" stroke="#8a8a8a" stroke-width="1.0" />
<polygon points="519.9,466.2 526.1,468.1 525.2,462.4" fill="#7c7c7c" />
<polygon points="581.0,456.2 575.7,460.0 574.8,454.3" fill="#7c7c7c" />
<line x1="602.9" y1="463.1" x2="611.1" y2="469.0" stroke="#8a8a8a" stroke-width="1.0" />
<polygon points="599.1,460.4 602.1,466.1 605.5,461.4" fill="#7c7c7c" />
<polygon points="614.9,471.7 608.5,470.7 611.9,466.0" fill="#7c7c7c" />
<line x1="622.8" y1="472.7" x2="666.0" y2="463.0" stroke="#8a8a8a" stroke-width="1.0" />
<polygon points="618.3,473.7 624.6,475.3 623.3,469.6" fill="#7c7c7c" />
<polygon points="670.5,462.0 665.5,466.1 664.2,460.4" fill="#7c7c7c" />
<line x1="693.4" y1="462.8" x2="701.2" y2="468.3" stroke="#8a8a8a" stroke-width="1.0" />
<polygon points="689.6,460.2 692.7,465.9 696.0,461.1" fill="#7c7c7c" />
<polygon points="705.0,470.9 698.6,470.0 701.9,465.2" fill="#7c7c7c" />
<line x1="713.6" y1="471.9" x2="792.7" y2="457.3" stroke="#8a8a8a" stroke-width="1.0" />
<polygon points="709.0,472.7 715.2,474.5 714.2,468.8" fill="#7c7c7c" />
<polygon points="797.3,456.5 792.1,460.4 791.1,454.7" fill="#7c7c7c" />
<line x1="819.5" y1="462.4" x2="827.1" y2="468.0" stroke="#8a8a8a" stroke-width="1.0" />
<polygon points="815.8,459.6 818.7,465.4 822.2,460.7" fill="#7c7c7c" />
<polygon points="830.8,470.8 824.4,469.7 827.9,465.0" fill="#7c7c7c" />
<line x1="839.6" y1="471.1" x2="928.6" y2="460.5" stroke="#8a8a8a" stroke-width="1.0" />
<polygon points="835.0,471.6 841.1,473.8 840.4,468.0" fill="#7c7c7c" />
<polygon points="933.2,460.0 927.8,463.6 927.1,457.8" fill="#7c7c7c" />
<text transform="translate(293.3,174.0) rotate(-90)" x="0" y="4.69" text-anchor="middle" font-size="13.2" fill="#858585" textLength="26.5" lengthAdjust="spacingAndGlyphs">1916</text>
<text transform="translate(580.3,179.5) rotate(-90)" x="0" y="4.69" text-anchor="middle" font-size="13.2" fill="#858585" textLength="25.5" lengthAdjust="spacingAndGlyphs">1916</text>
<text transform="translate(26.1,423.2) rotate(-90)" x="0" y="3.98" text-anchor="middle" font-size="11.2" fill="#858585" textLength="16.5" lengthAdjust="spacingAndGlyphs">845</text>
<text transform="translate(110.4,397.4) rotate(-90)" x="0" y="3.98" text-anchor="middle" font-size="11.2" fill="#858585" textLength="21.9" lengthAdjust="spacingAndGlyphs">1205</text>
<text transform="translate(194.2,395.3) rotate(-90)" x="0" y="3.98" text-anchor="middle" font-size="11.2" fill="#858585" textLength="22.1" lengthAdjust="spacingAndGlyphs">1570</text>
<text transform="translate(281.6,392.9) rotate(-90)" x="0" y="3.98" text-anchor="middle" font-size="11.2" fill="#858585" textLength="22" lengthAdjust="spacingAndGlyphs">1260</text>
<text transform="translate(372.6,401.8) rotate(-90)" x="0" y="3.98" text-anchor="middle" font-size="11.2" fill="#858585" textLength="16.7" lengthAdjust="spacingAndGlyphs">890</text>
<text transform="translate(493.2,395.6) rotate(-90)" x="0" y="3.98" text-anchor="middle" font-size="11.2" fill="#858585" textLength="22" lengthAdjust="spacingAndGlyphs">1260</text>
<text transform="translate(591.1,430.1) rotate(-90)" x="0" y="3.98" text-anchor="middle" font-size="11.2" fill="#858585" textLength="16.5" lengthAdjust="spacingAndGlyphs">460</text>
<text transform="translate(681.5,429.5) rotate(-90)" x="0" y="3.98" text-anchor="middle" font-size="11.2" fill="#858585" textLength="16.4" lengthAdjust="spacingAndGlyphs">500</text>
<text transform="translate(808.2,429.1) rotate(-90)" x="0" y="3.98" text-anchor="middle" font-size="11.2" fill="#858585" textLength="16.2" lengthAdjust="spacingAndGlyphs">500</text>
<text transform="translate(308.1,286.1) rotate(32)" x="0" y="4.69" text-anchor="middle" font-size="13.2" fill="#858585" textLength="20.5" lengthAdjust="spacingAndGlyphs">276</text>
<text transform="translate(376.6,285.1) rotate(-6.5)" x="0" y="4.69" text-anchor="middle" font-size="13.2" fill="#858585" textLength="25.5" lengthAdjust="spacingAndGlyphs">1000</text>
<text transform="translate(596.4,288.3) rotate(33)" x="0" y="4.69" text-anchor="middle" font-size="13.2" fill="#858585" textLength="20.5" lengthAdjust="spacingAndGlyphs">332</text>
<text transform="translate(646.6,291.4) rotate(-9)" x="0" y="4.69" text-anchor="middle" font-size="13.2" fill="#858585" textLength="20" lengthAdjust="spacingAndGlyphs">560</text>
<text transform="translate(35.8,472.7) rotate(38)" x="0" y="3.98" text-anchor="middle" font-size="11.2" fill="#858585" textLength="16" lengthAdjust="spacingAndGlyphs">185</text>
<text transform="translate(78.8,472.7) rotate(-11.5)" x="0" y="3.98" text-anchor="middle" font-size="11.2" fill="#858585" textLength="16.8" lengthAdjust="spacingAndGlyphs">600</text>
<text transform="translate(118.8,470.4) rotate(38)" x="0" y="3.98" text-anchor="middle" font-size="11.2" fill="#858585" textLength="16" lengthAdjust="spacingAndGlyphs">185</text>
<text transform="translate(163.1,470.0) rotate(-11.5)" x="0" y="3.98" text-anchor="middle" font-size="11.2" fill="#858585" textLength="16.8" lengthAdjust="spacingAndGlyphs">600</text>
<text transform="translate(202.7,467.6) rotate(38)" x="0" y="3.98" text-anchor="middle" font-size="11.2" fill="#858585" textLength="16" lengthAdjust="spacingAndGlyphs">185</text>
<text transform="translate(247.0,468.5) rotate(-13)" x="0" y="3.98" text-anchor="middle" font-size="11.2" fill="#858585" textLength="16.8" lengthAdjust="spacingAndGlyphs">600</text>
<text transform="translate(290.1,468.7) rotate(45)" x="0" y="3.98" text-anchor="middle" font-size="11.2" fill="#858585" textLength="16.3" lengthAdjust="spacingAndGlyphs">225</text>
<text transform="translate(335.6,468.3) rotate(-12)" x="0" y="3.98" text-anchor="middle" font-size="11.2" fill="#858585" textLength="16.8" lengthAdjust="spacingAndGlyphs">620</text>
<text transform="translate(382.0,471.2) rotate(45)" x="0" y="3.98" text-anchor="middle" font-size="11.2" fill="#858585" textLength="16.3" lengthAdjust="spacingAndGlyphs">225</text>
<text transform="translate(445.4,469.5) rotate(-11)" x="0" y="3.98" text-anchor="middle" font-size="11.2" fill="#858585" textLength="16.8" lengthAdjust="spacingAndGlyphs">925</text>
<text transform="translate(501.9,469.5) rotate(45)" x="0" y="3.98" text-anchor="middle" font-size="11.2" fill="#858585" textLength="16.3" lengthAdjust="spacingAndGlyphs">225</text>
<text transform="translate(553.6,468.7) rotate(-9.5)" x="0" y="3.98" text-anchor="middle" font-size="11.2" fill="#858585" textLength="16.8" lengthAdjust="spacingAndGlyphs">875</text>
<text transform="translate(600.1,473.7) rotate(40)" x="0" y="3.98" text-anchor="middle" font-size="11.2" fill="#858585" textLength="16.5" lengthAdjust="spacingAndGlyphs">320</text>
<text transform="translate(649.5,475.8) rotate(-12.5)" x="0" y="3.98" text-anchor="middle" font-size="11.2" fill="#858585" textLength="16.8" lengthAdjust="spacingAndGlyphs">600</text>
<text transform="translate(690.6,473.4) rotate(40)" x="0" y="3.98" text-anchor="middle" font-size="11.2" fill="#858585" textLength="16.5" lengthAdjust="spacingAndGlyphs">320</text>
<text transform="translate(756.5,471.2) rotate(-10.5)" x="0" y="3.98" text-anchor="middle" font-size="11.2" fill="#858585" textLength="21.6" lengthAdjust="spacingAndGlyphs">1040</text>
<text transform="translate(816.7,473.3) rotate(40)" x="0" y="3.98" text-anchor="middle" font-size="11.2" fill="#858585" textLength="16.5" lengthAdjust="spacingAndGlyphs">320</text>
<text transform="translate(892.4,473.3) rotate(-6.5)" x="0" y="3.98" text-anchor="middle" font-size="11.2" fill="#858585" textLength="21.3" lengthAdjust="spacingAndGlyphs">1040</text>
</g>
</svg>
</body></html>
